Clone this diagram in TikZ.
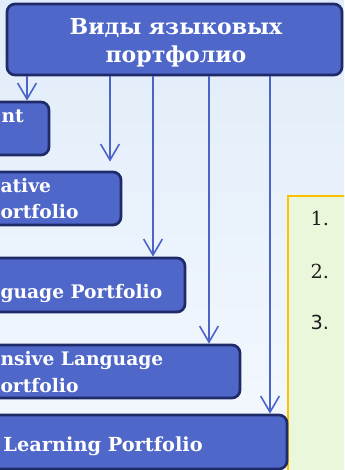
\documentclass[tikz,border=0pt]{standalone}
\usepackage{fontspec}
\setmainfont{DejaVu Serif}
\newfontfamily\numsans{DejaVu Sans}
\usetikzlibrary{arrows.meta,calc,fit}

\definecolor{boxfill}{RGB}{79,103,200}
\definecolor{boxline}{RGB}{31,43,104}
\definecolor{arrline}{RGB}{76,100,202}
\definecolor{notefill}{RGB}{235,247,218}
\definecolor{noteline}{RGB}{255,192,0}
\definecolor{numgray}{RGB}{30,30,30}
\definecolor{bgtop}{RGB}{224,236,249}
\definecolor{bgbot}{RGB}{245,249,254}

\tikzset{every picture/.style={line width=0.75pt}}
\tikzset{
  kindbox/.style={draw=boxline, fill=boxfill, line width=2pt, rounded corners=6pt, inner sep=0pt},
  kindtext/.style={text=white, font=\bfseries\fontsize{14}{16}\selectfont, inner sep=0pt, anchor=base west},
  headtext/.style={text=white, font=\bfseries\fontsize{16.5}{21}\selectfont, inner sep=0pt, align=center},
  kindarrow/.style={draw=arrline, line width=1.2pt, -{Straight Barb[length=12pt,width=14pt,line width=1.2pt]}},
  numtext/.style={text=numgray, font=\fontsize{14.5}{16}\selectfont, inner sep=0pt, anchor=base west}
}

\begin{document}
\begin{tikzpicture}[x=0.75pt,y=0.75pt,yscale=-1,xscale=1]
        \useasboundingbox (0,0) rectangle (344,470);
        \clip (0,0) rectangle (344,470);

        %Background
        \fill [top color=bgtop, bottom color=bgbot] (0,0) rectangle (344,470);

        %Shape: Note box
        \draw [draw=noteline, fill=notefill, line width=1.8pt] (288,196) rectangle (360,490);
        % Text Node
        \node [numtext] (n1) at (310,225) {1.};
        % Text Node
        \node [numtext] (n2) at (310,278) {2.};
        % Text Node
        \node [numtext, font=\numsans\fontsize{14.5}{16}\selectfont] (n3) at (310,329) {3.};

        %Shape: Heading box
        \node [kindbox, fit={(7,4) (342,75)}] (head) {};
        \node [headtext] (headlbl) at (176,43) {Виды языковых\\портфолио};

        %Shape: Kind boxes
        \node [kindbox, fit={(-40,102) (49,155)}] (b1) {};
        \node [kindbox, fit={(-40,172) (121,225)}] (b2) {};
        \node [kindbox, fit={(-40,258) (185,312)}] (b3) {};
        \node [kindbox, fit={(-40,345) (240,398)}] (b4) {};
        \node [kindbox, fit={(-40,415) (287,469)}] (b5) {};

        % Text Node
        \node [kindtext] (t1) at (1,123) {nt};
        % Text Node
        \node [kindtext] (t2a) at (0,192) {ative};
        \node [kindtext] (t2b) at (0,218) {ortfolio};
        % Text Node
        \node [kindtext] (t3) at (0,298) {guage Portfolio};
        % Text Node
        \node [kindtext] (t4a) at (0,365) {nsive Language};
        \node [kindtext] (t4b) at (0,392) {ortfolio};
        % Text Node
        \node [kindtext, font=\bfseries\fontsize{14.5}{16}\selectfont] (t5) at (3,451) {Learning Portfolio};

        %Straight Lines
        \coordinate (x1) at (27,0);
        \coordinate (x2) at (110,0);
        \coordinate (x3) at (153,0);
        \coordinate (x4) at (209,0);
        \coordinate (x5) at (270,0);
        \draw [kindarrow] (head.south -| x1) -- (b1.north -| x1);
        \draw [kindarrow] (head.south -| x2) -- ($(b2.north -| x2)+(0,-9)$);
        \draw [kindarrow] (head.south -| x3) -- (b3.north -| x3);
        \draw [kindarrow] (head.south -| x4) -- (b4.north -| x4);
        \draw [kindarrow] (head.south -| x5) -- (b5.north -| x5);

\end{tikzpicture}
\end{document}
